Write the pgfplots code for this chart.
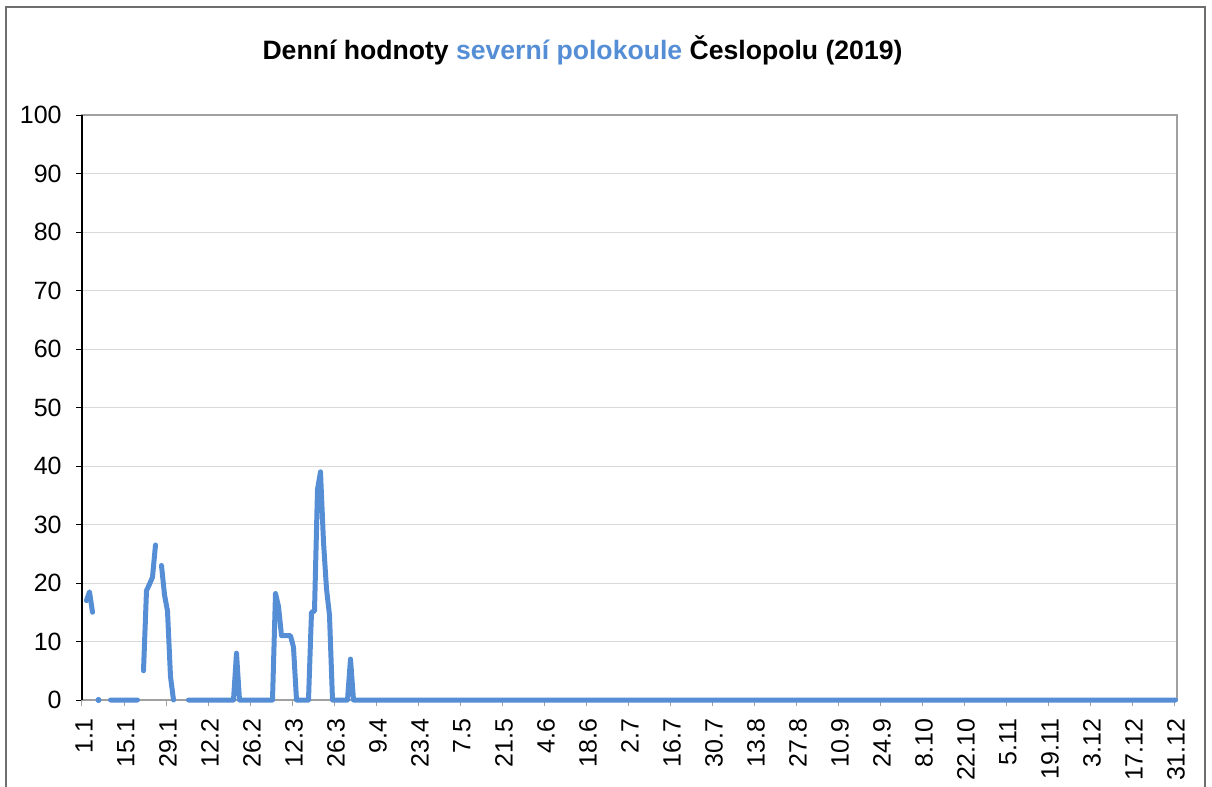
\documentclass[border=0pt]{standalone}
\usepackage{fontspec}
\setmainfont{Liberation Sans}
\usepackage{pgfplots}
\pgfplotsset{compat=1.18}
\definecolor{lineblue}{RGB}{85,142,213}
\definecolor{gridgray}{RGB}{217,217,217}
\definecolor{boxgray}{RGB}{160,160,160}
\definecolor{framegray}{RGB}{110,110,110}
\begin{document}
\begin{tikzpicture}
\useasboundingbox (0,0) rectangle (606pt,-393.5pt);
\draw[framegray, line width=0.8pt] (3pt,-400pt) -- (3pt,-3.5pt) -- (602.5pt,-3.5pt) -- (602.5pt,-400pt);
\node[font=\bfseries\fontsize{13.3}{16}\selectfont] at (291.25pt,-25pt)
  {Denní hodnoty \textcolor{lineblue}{severní polokoule} Česlopolu (2019)};
\begin{axis}[
  at={(41pt,-350pt)}, anchor=south west,
  scale only axis, width=547.5pt, height=292.5pt,
  xmin=0.5, xmax=365.5, ymin=0, ymax=100,
  ytick={0,10,20,30,40,50,60,70,80,90,100},
  xtick={0.5,14.5,28.5,42.5,56.5,70.5,84.5,98.5,112.5,126.5,140.5,154.5,168.5,182.5,196.5,210.5,224.5,238.5,252.5,266.5,280.5,294.5,308.5,322.5,336.5,350.5,364.5},
  xticklabels={1.1,15.1,29.1,12.2,26.2,12.3,26.3,9.4,23.4,7.5,21.5,4.6,18.6,2.7,16.7,30.7,13.8,27.8,10.9,24.9,8.10,22.10,5.11,19.11,3.12,17.12,31.12},
  xtick pos=bottom, ytick pos=left,
  tick align=outside, major tick length=3pt,
  ymajorgrids, grid style={gridgray, line width=0.5pt},
  axis line style={boxgray, line width=0.6pt},
  xtick style={boxgray, line width=0.5pt},
  ytick style={black, line width=0.5pt},
  /pgf/number format/assume math mode=true,
  ticklabel style={font=\fontsize{12.5}{14}\selectfont},
  xticklabel style={rotate=90, anchor=east, inner sep=0pt, xshift=-6pt, yshift=-1pt},
  yticklabel style={anchor=east, inner sep=0pt, xshift=-7pt},
  unbounded coords=jump,
  clip=false,
]
\addplot[lineblue, line width=2.5pt, line join=round, line cap=round] coordinates {
(1,nan)(2,17)(3,18.5)(4,15)(5,nan)(6,nan)(7,nan)(8,nan)(9,nan)(10,0)
(11,0)(12,0)(13,0)(14,0)(15,0)(16,0)(17,0)(18,0)(19,0)(20,nan)
(21,5)(22,18.7)(23,19.8)(24,21)(25,26.5)(26,nan)(27,23)(28,18)(29,15.2)(30,4)
(31,0)(32,nan)(33,nan)(34,nan)(35,nan)(36,0)(37,0)(38,0)(39,0)(40,0)
(41,0)(42,0)(43,0)(44,0)(45,0)(46,0)(47,0)(48,0)(49,0)(50,0)
(51,0)(52,8)(53,0)(54,0)(55,0)(56,0)(57,0)(58,0)(59,0)(60,0)
(61,0)(62,0)(63,0)(64,0)(65,18.2)(66,16)(67,11)(68,11)(69,11)(70,11)
(71,9)(72,0)(73,0)(74,0)(75,0)(76,0)(77,15)(78,15.2)(79,36)(80,39)
(81,27)(82,19)(83,14.5)(84,0)(85,0)(86,0)(87,0)(88,0)(89,0)(90,7)
(91,0)(92,0)(93,0)(94,0)(95,0)(96,0)(97,0)(98,0)(99,0)(100,0)
(101,0)(102,0)(103,0)(104,0)(105,0)(106,0)(107,0)(108,0)(109,0)(110,0)
(111,0)(112,0)(113,0)(114,0)(115,0)(116,0)(117,0)(118,0)(119,0)(120,0)
(121,0)(122,0)(123,0)(124,0)(125,0)(126,0)(127,0)(128,0)(129,0)(130,0)
(131,0)(132,0)(133,0)(134,0)(135,0)(136,0)(137,0)(138,0)(139,0)(140,0)
(141,0)(142,0)(143,0)(144,0)(145,0)(146,0)(147,0)(148,0)(149,0)(150,0)
(151,0)(152,0)(153,0)(154,0)(155,0)(156,0)(157,0)(158,0)(159,0)(160,0)
(161,0)(162,0)(163,0)(164,0)(165,0)(166,0)(167,0)(168,0)(169,0)(170,0)
(171,0)(172,0)(173,0)(174,0)(175,0)(176,0)(177,0)(178,0)(179,0)(180,0)
(181,0)(182,0)(183,0)(184,0)(185,0)(186,0)(187,0)(188,0)(189,0)(190,0)
(191,0)(192,0)(193,0)(194,0)(195,0)(196,0)(197,0)(198,0)(199,0)(200,0)
(201,0)(202,0)(203,0)(204,0)(205,0)(206,0)(207,0)(208,0)(209,0)(210,0)
(211,0)(212,0)(213,0)(214,0)(215,0)(216,0)(217,0)(218,0)(219,0)(220,0)
(221,0)(222,0)(223,0)(224,0)(225,0)(226,0)(227,0)(228,0)(229,0)(230,0)
(231,0)(232,0)(233,0)(234,0)(235,0)(236,0)(237,0)(238,0)(239,0)(240,0)
(241,0)(242,0)(243,0)(244,0)(245,0)(246,0)(247,0)(248,0)(249,0)(250,0)
(251,0)(252,0)(253,0)(254,0)(255,0)(256,0)(257,0)(258,0)(259,0)(260,0)
(261,0)(262,0)(263,0)(264,0)(265,0)(266,0)(267,0)(268,0)(269,0)(270,0)
(271,0)(272,0)(273,0)(274,0)(275,0)(276,0)(277,0)(278,0)(279,0)(280,0)
(281,0)(282,0)(283,0)(284,0)(285,0)(286,0)(287,0)(288,0)(289,0)(290,0)
(291,0)(292,0)(293,0)(294,0)(295,0)(296,0)(297,0)(298,0)(299,0)(300,0)
(301,0)(302,0)(303,0)(304,0)(305,0)(306,0)(307,0)(308,0)(309,0)(310,0)
(311,0)(312,0)(313,0)(314,0)(315,0)(316,0)(317,0)(318,0)(319,0)(320,0)
(321,0)(322,0)(323,0)(324,0)(325,0)(326,0)(327,0)(328,0)(329,0)(330,0)
(331,0)(332,0)(333,0)(334,0)(335,0)(336,0)(337,0)(338,0)(339,0)(340,0)
(341,0)(342,0)(343,0)(344,0)(345,0)(346,0)(347,0)(348,0)(349,0)(350,0)
(351,0)(352,0)(353,0)(354,0)(355,0)(356,0)(357,0)(358,0)(359,0)(360,0)
(361,0)(362,0)(363,0)(364,0)(365,0)
};
\addplot[only marks, mark=*, mark size=1.3pt, lineblue] coordinates {(6,0)};
\draw[black, line width=0.6pt] (rel axis cs:0,0) -- (rel axis cs:0,1);
\end{axis}
\end{tikzpicture}
\end{document}
